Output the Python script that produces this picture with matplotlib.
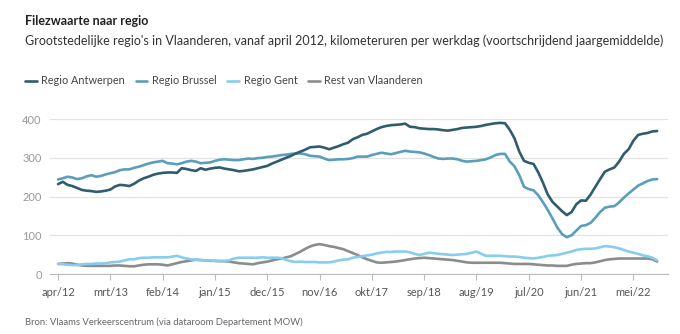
import numpy as np
import matplotlib.pyplot as plt

plt.rcParams['font.family'] = ['Lato', 'DejaVu Sans']

# monthly values, apr 2012 .. okt 2022
antwerpen = [232, 238, 230, 227, 222, 217, 215, 214, 212, 213, 215, 218, 226, 230, 229, 227,
             233, 241, 247, 251, 256, 259, 261, 262, 262, 261, 273, 271, 268, 266, 273, 269,
             272, 274, 275, 272, 270, 268, 265, 266, 268, 270, 273, 276, 279, 285, 290, 295,
             300, 305, 311, 316, 321, 327, 328, 329, 326, 322, 326, 330, 335, 339, 348, 353,
             359, 362, 368, 374, 379, 382, 384, 385, 386, 388, 380, 379, 376, 375, 374, 374,
             373, 371, 370, 372, 374, 377, 378, 379, 380, 382, 385, 387, 389, 390, 389, 372,
             350, 316, 292, 287, 284, 262, 235, 205, 186, 174, 162, 152, 160, 180, 190, 189,
             205, 225, 245, 264, 270, 275, 290, 310, 322, 344, 359, 362, 364, 368, 369]
brussel = [244, 247, 251, 249, 245, 247, 252, 255, 251, 253, 257, 260, 263, 268, 270, 270,
           274, 277, 281, 285, 288, 290, 292, 286, 285, 283, 286, 290, 292, 290, 286, 287,
           288, 292, 295, 296, 295, 294, 294, 296, 298, 297, 299, 300, 302, 303, 305, 307,
           308, 310, 311, 311, 309, 305, 304, 303, 298, 294, 295, 296, 296, 297, 299, 303,
           303, 303, 307, 310, 313, 311, 309, 312, 315, 318, 316, 315, 314, 311, 307, 302,
           298, 297, 298, 298, 296, 292, 290, 291, 292, 294, 296, 301, 307, 310, 310, 290,
           278, 255, 225, 219, 216, 203, 185, 165, 143, 120, 103, 95, 100, 112, 124, 126,
           132, 145, 160, 171, 174, 175, 185, 197, 208, 218, 228, 234, 240, 244, 245]
gent = [26, 25, 24, 23, 23, 25, 26, 26, 27, 27, 28, 30, 31, 32, 35, 38,
        38, 41, 42, 42, 43, 43, 43, 43, 45, 47, 43, 40, 38, 37, 36, 35,
        35, 34, 34, 34, 35, 40, 42, 42, 42, 42, 42, 43, 42, 42, 42, 41,
        36, 33, 31, 32, 31, 31, 31, 30, 30, 30, 32, 35, 37, 38, 42, 44,
        46, 48, 50, 53, 55, 57, 57, 58, 58, 58, 56, 52, 49, 52, 55, 54,
        52, 51, 50, 49, 50, 51, 52, 55, 58, 52, 47, 47, 47, 47, 46, 45,
        45, 44, 42, 41, 40, 42, 44, 47, 48, 49, 52, 55, 58, 62, 64, 65,
        65, 66, 69, 72, 71, 69, 66, 62, 58, 55, 52, 48, 46, 42, 35]
rest = [26, 27, 28, 27, 24, 22, 21, 21, 21, 21, 21, 21, 22, 22, 21, 20,
        20, 22, 24, 25, 25, 25, 24, 22, 25, 28, 31, 33, 35, 37, 36, 35,
        34, 34, 33, 33, 32, 30, 28, 27, 26, 25, 28, 30, 32, 35, 38, 40,
        43, 46, 52, 58, 65, 71, 75, 77, 75, 72, 70, 67, 64, 59, 54, 49,
        43, 38, 34, 30, 29, 30, 31, 32, 34, 36, 38, 40, 41, 42, 41, 40,
        39, 38, 37, 36, 34, 32, 30, 29, 29, 29, 29, 29, 29, 29, 28, 27,
        26, 26, 26, 26, 25, 24, 23, 22, 22, 21, 21, 21, 24, 26, 27, 28,
        28, 30, 33, 36, 38, 39, 40, 40, 40, 40, 40, 40, 40, 38, 32]

tick_labels = ['apr/12', 'mrt/13', 'feb/14', 'jan/15', 'dec/15', 'nov/16',
               'okt/17', 'sep/18', 'aug/19', 'jul/20', 'jun/21', 'mei/22']

series = [
    ('Regio Antwerpen', antwerpen, '#2f5d6d'),
    ('Regio Brussel', brussel, '#5b9ebc'),
    ('Regio Gent', gent, '#86cdee'),
    ('Rest van Vlaanderen', rest, '#8c8c8c'),
]

fig = plt.figure(figsize=(6.8, 3.34), dpi=100)
ax = fig.add_axes([0.0735, 0.1796, 0.909, 0.4641])

x = np.arange(len(antwerpen))
# draw back to front like the original (antwerpen on top)
for name, vals, col in reversed(series):
    ax.plot(x, vals, color=col, lw=1.9, label=name, solid_capstyle='round')

ax.set_xlim(-1.7, 128.3)
ax.set_ylim(0, 400)
ax.set_yticks([0, 100, 200, 300, 400])
ax.set_xticks(np.arange(0, 11 * len(tick_labels), 11))
ax.set_xticklabels(tick_labels)
ax.grid(axis='y', color='#e3e3e3', lw=0.9)
ax.set_axisbelow(True)
for s in ['top', 'right', 'left']:
    ax.spines[s].set_visible(False)
ax.spines['bottom'].set_color('#bbbbbb')
ax.tick_params(axis='x', length=4, color='#bbbbbb', labelsize=8, labelcolor='#555555', pad=5)
ax.tick_params(axis='y', length=0, labelsize=8, labelcolor='#999999', pad=6)

# legend in original order
h, l = ax.get_legend_handles_labels()
fig.legend(h[::-1], l[::-1], loc='center left', bbox_to_anchor=(0.03, 0.7575), ncol=4,
           frameon=False, fontsize=7.8, handlelength=1.1, handletextpad=0.4,
           columnspacing=1.0, labelcolor='#444444', borderaxespad=0)

fig.text(25 / 680, 1 - 21 / 334, 'Filezwaarte naar regio', fontsize=9, fontweight='bold',
         color='#222222', va='center')
fig.text(25 / 680, 1 - 41 / 334,
         "Grootstedelijke regio's in Vlaanderen, vanaf april 2012, kilometeruren per werkdag (voortschrijdend jaargemiddelde)",
         fontsize=9, color='#333333', va='center')
fig.text(25 / 680, 1 - 322 / 334, 'Bron: Vlaams Verkeerscentrum (via dataroom Departement MOW)',
         fontsize=6.8, color='#666666', va='center')

fig.savefig('out.png', dpi=100)
